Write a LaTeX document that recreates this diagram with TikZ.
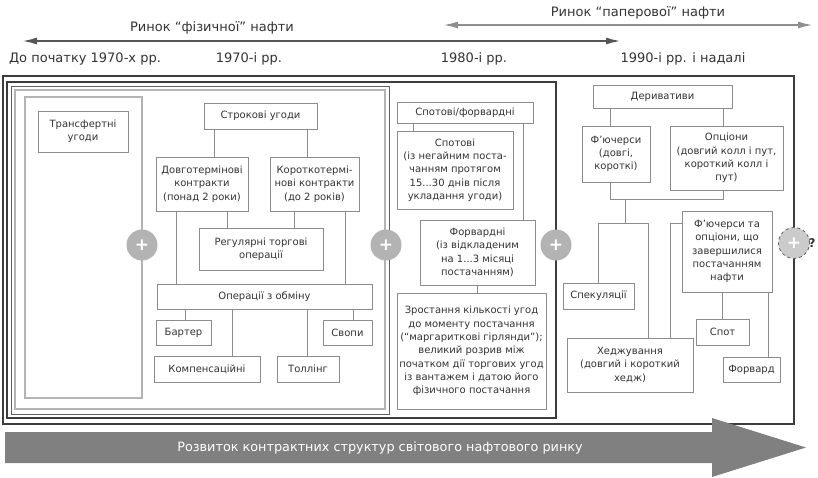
\documentclass[tikz,border=0pt]{standalone}
\usepackage{fontspec}
\setmainfont{DejaVu Sans}
\usetikzlibrary{arrows.meta}
\definecolor{txt}{HTML}{333333}
\definecolor{bord}{HTML}{8C8C8C}
\definecolor{darkf}{HTML}{3C3C3C}
\definecolor{midf}{HTML}{606060}
\definecolor{lightf}{HTML}{B4B4B4}
\definecolor{plusc}{HTML}{B3B3B3}
\definecolor{bigarr}{HTML}{808080}
\definecolor{arrA}{HTML}{555555}
\definecolor{arrB}{HTML}{8E8E8E}
\begin{document}
\begin{tikzpicture}[x=1pt,y=-1pt,
  box/.style={draw=bord, line width=1pt, fill=white, inner sep=1pt, align=center, text=txt,
    font=\fontsize{10}{13.3}\selectfont},
  conn/.style={draw=bord, line width=1pt},
  plusnode/.style={circle, fill=plusc, minimum size=31pt, inner sep=0pt, text=white,
    font=\fontsize{17}{17}\selectfont\bfseries},
  head/.style={text=txt, font=\fontsize{13}{15}\selectfont}]
\useasboundingbox (0,0) rectangle (818,477);

% ---- top arrows and labels
\coordinate (a1l) at (22,41); \coordinate (a1r) at (621,41);
\draw[arrA, line width=2pt, {Latex[length=15pt,width=7pt]}-{Latex[length=15pt,width=7pt]}] (a1l) -- (a1r);
\coordinate (a2l) at (443,25); \coordinate (a2r) at (813,25);
\draw[arrB, line width=2pt, {Latex[length=15pt,width=7pt]}-{Latex[length=15pt,width=7pt]}] (a2l) -- (a2r);
\node[head] (hphys) at (212,28) {Ринок “фізичної” нафти};
\node[head] (hpap) at (638,13) {Ринок “паперової” нафти};
\node[head] (e0) at (85,59) {До початку 1970-х рр.};
\node[head] (e1) at (249,59) {1970-і рр.};
\node[head] (e2) at (474,59) {1980-і рр.};
\node[head] (e3) at (683,59) {1990-і рр. і надалі};

% ---- frames
\draw[darkf, line width=1.8pt] (3,76) rectangle (794,424);
\draw[darkf, line width=1.4pt] (7,82) rectangle (556,418);
\draw[midf, line width=1pt] (11,86) rectangle (389,414);
\draw[lightf, line width=1.6pt] (15,90) rectangle (385,409);
\draw[lightf, line width=1.5pt] (25,97) rectangle (142,398);

% ---- before 1970s
\node[box, minimum width=90pt, minimum height=41pt] (trans) at (83,131.5) {Трансфертні\\угоди};

% ---- 1970s
\node[box, minimum width=113pt, minimum height=26pt] (strok) at (260.5,116) {Строкові угоди};
\node[box, minimum width=92pt, minimum height=54pt] (dovg) at (202,184) {Довготермінові\\контракти\\(понад 2 роки)};
\node[box, minimum width=89pt, minimum height=54pt] (korot) at (314.5,184) {Короткотермі-\\нові контракти\\(до 2 років)};
\node[box, minimum width=124pt, minimum height=42pt] (reg) at (261,249) {Регулярні торгові\\операції};
\node[box, minimum width=215pt, minimum height=25pt] (oper) at (264.5,296.5) {Операції з обміну};
\node[box, minimum width=55pt, minimum height=25pt] (bart) at (183.5,332.5) {Бартер};
\node[box, minimum width=49pt, minimum height=25pt] (svop) at (347.5,332.5) {Свопи};
\node[box, minimum width=106pt, minimum height=26pt] (komp) at (207,369) {Компенсаційні};
\node[box, minimum width=62pt, minimum height=26pt] (toll) at (308,369) {Толлінг};

\coordinate (v1) at (214,0); \coordinate (v2) at (307,0);
\coordinate (v3) at (227,0); \coordinate (v4) at (294,0);
\coordinate (v5) at (176,0); \coordinate (v6) at (345,0);
\coordinate (v7) at (185,0); \coordinate (v8) at (232,0);
\coordinate (v9) at (307,0); \coordinate (v10) at (353,0);
\draw[conn] (v1 |- strok.south) -- (v1 |- dovg.north);
\draw[conn] (v2 |- strok.south) -- (v2 |- korot.north);
\draw[conn] (v3 |- dovg.south) -- (v3 |- reg.north);
\draw[conn] (v4 |- korot.south) -- (v4 |- reg.north);
\draw[conn] (v5 |- dovg.south) -- (v5 |- oper.north);
\draw[conn] (v6 |- korot.south) -- (v6 |- oper.north);
\draw[conn] (v7 |- oper.south) -- (v7 |- bart.north);
\draw[conn] (v8 |- oper.south) -- (v8 |- komp.north);
\draw[conn] (v9 |- oper.south) -- (v9 |- toll.north);
\draw[conn] (v10 |- oper.south) -- (v10 |- svop.north);

% ---- 1980s
\node[box, minimum width=136pt, minimum height=21pt] (spfw) at (465,112.5) {Спотові/форвардні};
\node[box, minimum width=116pt, minimum height=78pt] (spot) at (455,170) {Спотові\\(із негайним поста-\\чанням протягом\\15...30 днів після\\укладання угоди)};
\node[box, minimum width=115pt, minimum height=65pt] (forw) at (477.5,252.5) {Форвардні\\(із відкладеним\\на 1...3 місяці\\постачанням)};
\node[box, minimum width=149pt, minimum height=116pt] (zrost) at (471.5,351) {Зростання кількості угод\\до моменту постачання\\(“маргариткові гірлянди”);\\великий розрив між\\початком дії торгових угод\\із вантажем і датою його\\фізичного постачання};
\coordinate (w1) at (413,0); \coordinate (w2) at (523,0); \coordinate (w3) at (477,0);
\draw[conn] (w1 |- spfw.south) -- (w1 |- spot.north);
\draw[conn] (w2 |- spfw.south) -- (w2 |- forw.north);
\draw[conn] (w3 |- forw.south) -- (w3 |- zrost.north);

% ---- 1990s
\node[box, minimum width=139pt, minimum height=23pt] (der) at (662.5,96.5) {Деривативи};
\node[box, minimum width=68pt, minimum height=56pt] (fut) at (616,154) {Ф’ючерси\\(довгі,\\короткі)};
\node[box, minimum width=113pt, minimum height=64pt] (opt) at (726.5,158) {Опціони\\(довгий колл і пут,\\короткий колл і\\пут)};
\node[box, minimum width=71pt, minimum height=26pt] (spec) at (598.5,296) {Спекуляції};
\node[box, minimum width=126pt, minimum height=54pt] (hedg) at (630,365) {Хеджування\\(довгий і короткий\\хедж)};
\node[box, minimum width=90pt, minimum height=81pt] (fo) at (727,251.5) {Ф’ючерси та\\опціони, що\\завершилися\\постачанням\\нафти};
\node[box, minimum width=53pt, minimum height=26pt] (spb) at (722.5,332) {Спот};
\node[box, minimum width=57pt, minimum height=25pt] (fwd) at (751.5,369.5) {Форвард};

\coordinate (u1) at (610,0); \coordinate (u2) at (723,0);
\coordinate (j1) at (610,199); \coordinate (j2) at (625,199);
\coordinate (j3) at (625,223);
\coordinate (u3) at (598,223); \coordinate (u4) at (648,223);
\coordinate (u5) at (670,223);
\coordinate (u6) at (722,0); \coordinate (u7) at (768,0);
\draw[conn] (u1 |- der.south) -- (u1 |- fut.north);
\draw[conn] (u2 |- der.south) -- (u2 |- opt.north);
\draw[conn] (u1 |- fut.south) -- (j1) -- (u2 |- j1) -- (u2 |- opt.south);
\draw[conn] (j2) -- (j3);
\draw[conn] (u3 |- spec.north) -- (u3) -- (u4) -- (u4 |- hedg.north);
\draw[conn] (fo.west |- u5) -- (u5) -- (u5 |- hedg.north);
\draw[conn] (u6 |- fo.south) -- (u6 |- spb.north);
\draw[conn] (u7 |- fo.south) -- (u7 |- fwd.north);

% ---- plus circles
\node[plusnode] (p1) at (142,245) {+};
\node[plusnode] (p2) at (386,245) {+};
\node[plusnode] (p3) at (556,245) {+};
\node[plusnode, fill=lightf!70, draw=midf, dashed, line width=0.8pt] (p4) at (794,243) {+};
\node[text=txt, font=\fontsize{12}{14}\selectfont\bfseries, inner sep=0pt] (q) at (812,243) {?};

% ---- big bottom arrow
\fill[bigarr] (5,432) -- (712,432) -- (712,418) -- (806,447.5) -- (712,477) -- (712,463) -- (5,463) -- cycle;
\node[text=white, font=\fontsize{12.8}{14}\selectfont] (dev) at (380,447.5) {Розвиток контрактних структур світового нафтового ринку};
\end{tikzpicture}
\end{document}
